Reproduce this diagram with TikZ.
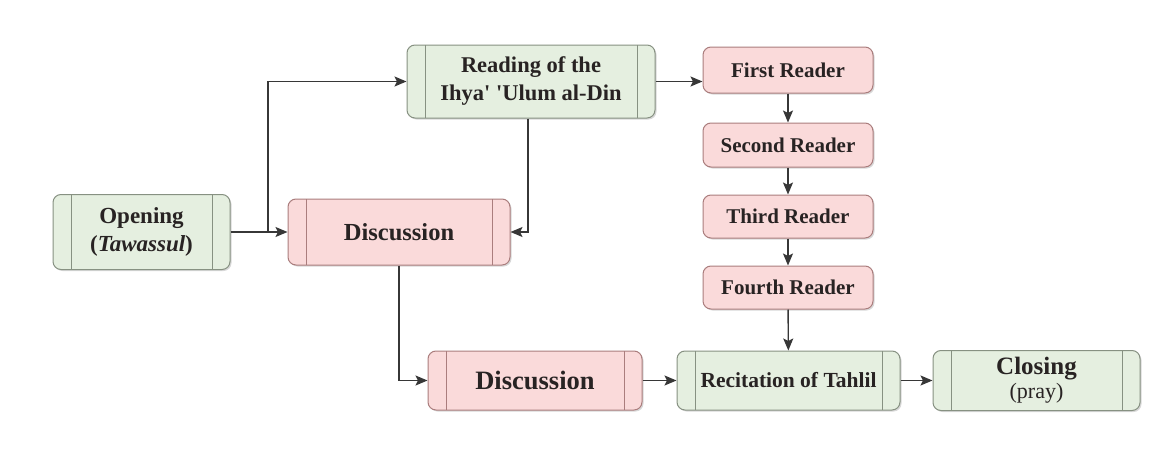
\documentclass[tikz,border=0pt]{standalone}
\usepackage{fontspec}
\setmainfont{Liberation Serif}
\usetikzlibrary{arrows.meta,shadows}
\definecolor{gfill}{RGB}{229,239,224}
\definecolor{gdraw}{RGB}{135,145,130}
\definecolor{pfill}{RGB}{250,218,218}
\definecolor{pdraw}{RGB}{170,125,125}
\definecolor{txt}{RGB}{40,35,35}
\definecolor{arr}{RGB}{55,55,55}
\tikzset{
  basebox/.style={rectangle, rounded corners=8pt, line width=1pt, align=center, text=txt,
    inner sep=0pt, font=\bfseries,
    drop shadow={shadow xshift=1.5pt, shadow yshift=-1.5pt, opacity=0.25, fill=black!60}},
  gbox/.style={basebox, fill=gfill, draw=gdraw},
  pbox/.style={basebox, fill=pfill, draw=pdraw},
  sidebars/.style={path picture={
    \draw[line width=0.9pt, draw=#1]
      ([xshift=18pt]path picture bounding box.north west) -- ([xshift=18pt]path picture bounding box.south west)
      ([xshift=-18pt]path picture bounding box.north east) -- ([xshift=-18pt]path picture bounding box.south east);}},
  conn/.style={draw=arr, line width=1.4pt, -{Stealth[length=12pt,width=10pt,inset=2.5pt]}}
}
\begin{document}
\begin{tikzpicture}[x=1pt,y=-1pt]
\useasboundingbox (0,0) rectangle (1163,455);
\fill[white] (0,0) rectangle (1163,455);

\node[gbox, sidebars=gdraw, minimum width=177pt, minimum height=75pt,
  font=\bfseries\fontsize{23}{28}\selectfont] (open) at (141.5,232)
  {Opening\\(\textit{Tawassul})};
\node[gbox, sidebars=gdraw, minimum width=248pt, minimum height=73pt,
  font=\bfseries\fontsize{22.5}{28}\selectfont] (read) at (531,81.5)
  {Reading of the\\Ihya\textquotesingle{} \textquotesingle Ulum al-Din};
\node[pbox, sidebars=pdraw, minimum width=222pt, minimum height=66pt,
  font=\bfseries\fontsize{24.5}{28}\selectfont] (disc1) at (399,232) {Discussion};

\node[pbox, minimum width=170pt, minimum height=46pt,
  font=\bfseries\fontsize{21}{24}\selectfont] (fr) at (788,70) {First Reader};
\node[pbox, minimum width=170pt, minimum height=44pt,
  font=\bfseries\fontsize{21}{24}\selectfont] (sr) at (788,145) {Second Reader};
\node[pbox, minimum width=170pt, minimum height=43pt,
  font=\bfseries\fontsize{21}{24}\selectfont] (tr) at (788,216.5) {Third Reader};
\node[pbox, minimum width=170pt, minimum height=43pt,
  font=\bfseries\fontsize{21}{24}\selectfont] (fo) at (788,287.5) {Fourth Reader};

\node[pbox, sidebars=pdraw, minimum width=214pt, minimum height=59pt,
  font=\bfseries\fontsize{26.5}{30}\selectfont] (disc2) at (535,380.5) {Discussion};
\node[gbox, sidebars=gdraw, minimum width=223pt, minimum height=59pt,
  font=\bfseries\fontsize{21.5}{25}\selectfont] (rec) at (788.5,380.5) {Recitation of Tahlil};
\node[gbox, sidebars=gdraw, minimum width=207pt, minimum height=60pt,
  font=\bfseries\fontsize{25}{25}\selectfont] (clo) at (1036.5,380.5)
  {Closing\\[-1pt]{\mdseries\fontsize{22}{24}\selectfont(pray)}};

\coordinate (j) at (268,232);
\draw[conn] (open.east) -- (disc1.west);
\draw[conn] (j) |- (read.west);
\draw[conn] ([xshift=-3pt]read.south) |- (disc1.east);
\draw[conn] (read.east) -- (read.east -| fr.west);
\draw[conn] (fr) -- (sr);
\draw[conn] (sr) -- (tr);
\draw[conn] (tr) -- (fo);
\draw[conn] (fo) -- (rec);
\draw[conn] (disc1.south) |- (disc2.west);
\draw[conn] (disc2) -- (rec);
\draw[conn] (rec) -- (clo);
\end{tikzpicture}
\end{document}
